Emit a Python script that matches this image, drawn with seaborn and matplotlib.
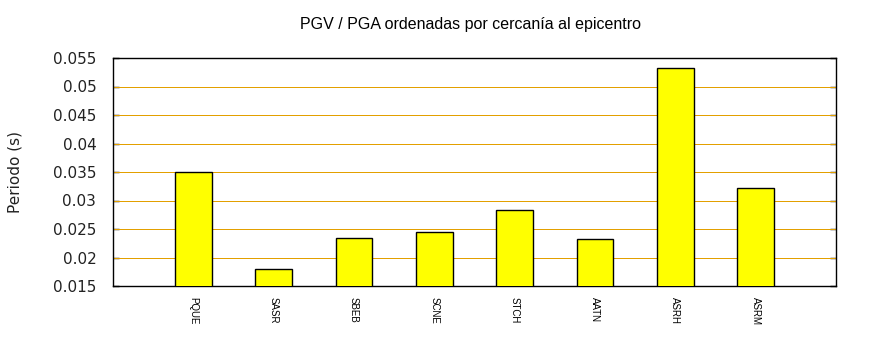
import matplotlib
matplotlib.use("Agg")
import matplotlib.pyplot as plt
import seaborn as sns
import pandas as pd

stations = ["PQUE", "SASR", "SBEB", "SCNE", "STCH", "AATN", "ASRH", "ASRM"]
pgv_pga = [0.0350, 0.0180, 0.0235, 0.0244, 0.0283, 0.0233, 0.0532, 0.0322]
yticks = [0.015, 0.02, 0.025, 0.03, 0.035, 0.04, 0.045, 0.05, 0.055]
ytick_labels = ["0.015", "0.02", "0.025", "0.03", "0.035", "0.04", "0.045", "0.05", "0.055"]

df = pd.DataFrame({"estacion": stations, "valor": pgv_pga})

sns.set_theme(style="white")
plt.rcParams["font.family"] = ["DejaVu Sans"]

fig = plt.figure(figsize=(8.7, 3.5), dpi=100)
ax = fig.add_axes([113 / 870, 64 / 350, 723 / 870, 228 / 350])

sns.barplot(data=df, x="estacion", y="valor", order=stations, ax=ax,
            color="#ffff00", edgecolor="black", linewidth=1.0, width=0.46,
            saturation=1, zorder=3)

ax.set_xlim(-1, 8)
ax.set_ylim(0.015, 0.055)
ax.set_yticks(yticks)
ax.set_yticklabels(ytick_labels, fontsize=11, color="#222222")
for y in yticks[1:-1]:
    ax.axhline(y, color="#e3a000", linewidth=0.5, antialiased=False, zorder=1)

ax.set_xticks(range(len(stations)))
ax.set_xticklabels(stations, rotation=270, fontsize=7, family="Liberation Sans",
                   va="top", ha="center", color="black")
ax.tick_params(axis="x", length=0, pad=8)
ax.tick_params(axis="y", direction="in", length=4, width=1, left=True, right=True,
               color="black", labelcolor="#222222", pad=12)

for s in ax.spines.values():
    s.set_visible(True)
    s.set_color("black")
    s.set_linewidth(1.0)

ax.set_xlabel("")
ax.set_ylabel("Periodo (s)", fontsize=11, color="#222222", labelpad=22)
fig.text(471 / 870, 1 - 25 / 350, "PGV / PGA ordenadas por cercanía al epicentro",
         ha="center", va="center", fontsize=11.5, family="Liberation Sans", color="black")

fig.savefig("out.png", dpi=100)
